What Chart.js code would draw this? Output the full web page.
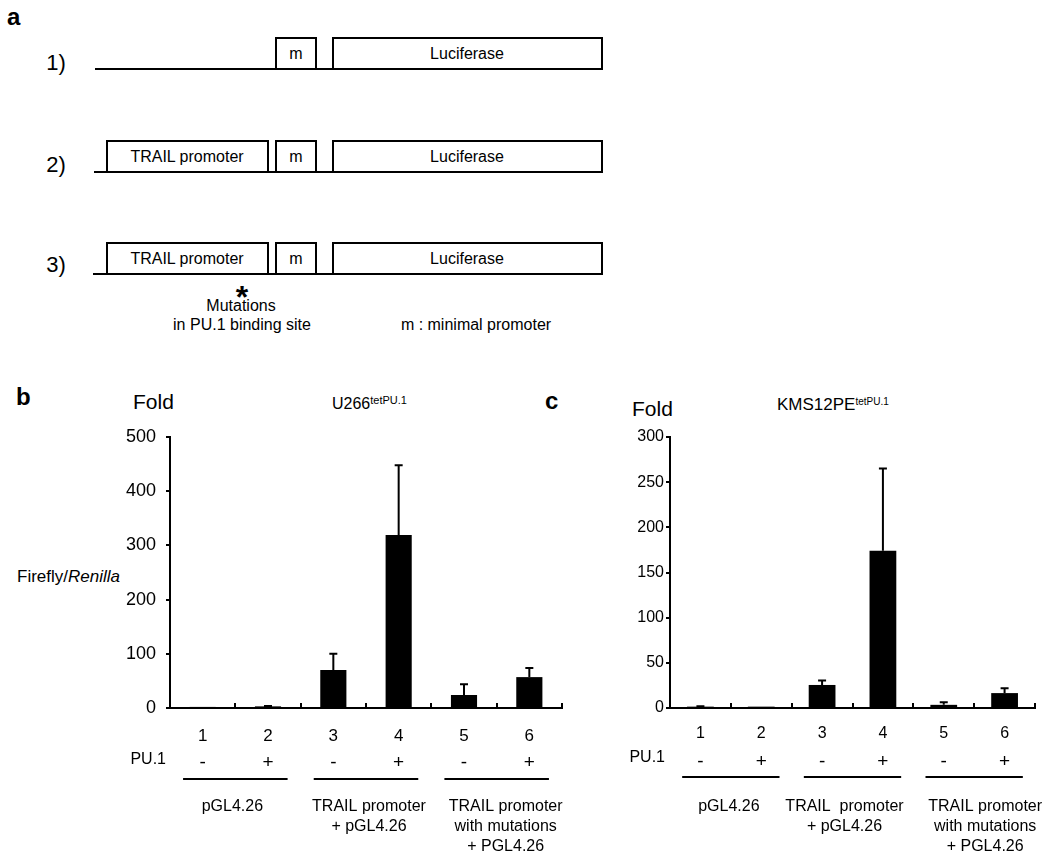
<!DOCTYPE html>
<html><head><meta charset="utf-8">
<script src="https://cdn.jsdelivr.net/npm/chart.js@4.4.1/dist/chart.umd.min.js"></script>
<style>
html,body{margin:0;padding:0;background:#fff;}
body{width:1050px;height:855px;position:relative;overflow:hidden;font-family:"Liberation Sans",Arial,sans-serif;color:#000;}
.t{position:absolute;white-space:nowrap;line-height:1;transform:translateY(-50%);}
.t sup{font-size:11px;vertical-align:5px;line-height:1;}
canvas{position:absolute;}
</style></head><body>

<svg width="1050" height="340" style="position:absolute;left:0;top:0" font-family="Liberation Sans, Arial, sans-serif">
  <g stroke="#000" stroke-width="2" fill="#fff">
    <line x1="95" y1="69" x2="333" y2="69"/>
    <rect x="276" y="38" width="40" height="31"/>
    <rect x="333" y="38" width="269" height="31"/>
    <line x1="94" y1="172" x2="333" y2="172"/>
    <rect x="107" y="141" width="161" height="31"/>
    <rect x="276" y="141" width="40" height="31"/>
    <rect x="333" y="141" width="269" height="31"/>
    <line x1="93" y1="274" x2="333" y2="274"/>
    <rect x="107" y="243" width="161" height="31"/>
    <rect x="276" y="243" width="40" height="31"/>
    <rect x="333" y="243" width="269" height="31"/>
  </g>
  <g fill="#000" font-size="16" text-anchor="middle" dominant-baseline="central">
    <text x="296" y="53">m</text>
    <text x="467" y="53">Luciferase</text>
    <text x="187" y="156">TRAIL promoter</text>
    <text x="296" y="156">m</text>
    <text x="467" y="156">Luciferase</text>
    <text x="187" y="258">TRAIL promoter</text>
    <text x="296" y="258">m</text>
    <text x="467" y="258">Luciferase</text>
    <text x="241" y="305">Mutations</text>
    <text x="242" y="324">in PU.1 binding site</text>
    <text x="476" y="324">m : minimal promoter</text>
  </g>
  <g fill="#000" font-size="22" text-anchor="middle" dominant-baseline="central">
    <text x="56" y="62">1)</text>
    <text x="56" y="164">2)</text>
    <text x="56" y="264">3)</text>
  </g>
  <text x="242" y="308" fill="#000" font-size="32" font-weight="bold" text-anchor="middle">*</text>
</svg>

<div class="t" style="left:7px;top:17px;font-size:24px;font-weight:bold;">a</div>
<div class="t" style="left:16px;top:397px;font-size:24px;font-weight:bold;">b</div>
<div class="t" style="left:545px;top:401px;font-size:24px;font-weight:bold;">c</div>
<div class="t" style="left:133px;top:401px;font-size:21px;">Fold</div>
<div class="t" style="left:632px;top:408px;font-size:21px;">Fold</div>
<div class="t" style="left:332px;top:403px;font-size:16px;">U266<sup>tetPU.1</sup></div>
<div class="t" style="left:777px;top:404px;font-size:17px;">KMS12PE<sup style="font-size:10px">tetPU.1</sup></div>
<div class="t" style="left:17px;top:576px;font-size:17px;">Firefly/<i>Renilla</i></div>

<canvas id="cb" width="580" height="475" style="left:0;top:380px;"></canvas>
<canvas id="cc" width="490" height="475" style="left:560px;top:380px;"></canvas>

<script>
const FONT = '"Liberation Sans", Arial, sans-serif';

// ---- data ----
const categories = ['1', '2', '3', '4', '5', '6'];
const pu1Signs = ['-', '+', '-', '+', '-', '+'];
const groupLabelsB = [['pGL4.26'], ['TRAIL promoter', '+ pGL4.26'], ['TRAIL promoter', 'with mutations', '+ PGL4.26']];
const groupLabelsC = [['pGL4.26'], ['TRAIL  promoter', '+ pGL4.26'], ['TRAIL promoter', 'with mutations', '+ PGL4.26']];
const u266Values = [2, 3, 70, 319, 24, 57];
const u266Errors = [0, 0.5, 30, 129, 20, 17];
const u266Ticks = [0, 100, 200, 300, 400, 500];
const kmsValues = [1.5, 1.5, 25.5, 174, 3.5, 16.5];
const kmsErrors = [0.5, 0, 5, 91, 3, 5.5];
const kmsTicks = [0, 50, 100, 150, 200, 250, 300];

// ---- decorations drawn from the library's scales ----
const decor = {
  id: 'decor',
  afterDatasetsDraw(chart, args, o) {
    const {ctx, scales: {x, y}} = chart;
    const vals = chart.data.datasets[0].data;
    ctx.save();
    ctx.strokeStyle = '#000';
    ctx.lineWidth = 2;
    o.errors.forEach((e, i) => {
      if (!e) return;
      const px = x.getPixelForValue(i);
      const y0 = y.getPixelForValue(vals[i]);
      const y1 = y.getPixelForValue(vals[i] + e);
      ctx.beginPath();
      ctx.moveTo(px, y0); ctx.lineTo(px, y1);
      ctx.moveTo(px - o.cap, y1); ctx.lineTo(px + o.cap, y1);
      ctx.stroke();
    });
    ctx.restore();
  },
  afterDraw(chart, args, o) {
    const {ctx, chartArea, scales: {x}} = chart;
    const bottom = chartArea.bottom;
    const n = chart.data.labels.length;
    ctx.save();
    ctx.strokeStyle = '#000';
    ctx.fillStyle = '#000';
    ctx.lineWidth = 2;
    // small upward ticks at category boundaries
    for (let i = 1; i <= n; i++) {
      const px = Math.round(x.getPixelForValue(i - 0.5));
      ctx.beginPath();
      ctx.moveTo(px, bottom);
      ctx.lineTo(px, bottom - o.tickUp);
      ctx.stroke();
    }
    // PU.1 row
    ctx.textBaseline = 'middle';
    ctx.font = o.puSize + 'px ' + FONT;
    ctx.textAlign = 'right';
    ctx.fillText('PU.1', chartArea.left - o.puGap, bottom + o.puDy);
    ctx.font = o.signSize + 'px ' + FONT;
    ctx.textAlign = 'center';
    pu1Signs.forEach((s, i) => ctx.fillText(s, x.getPixelForValue(i), bottom + o.signDy));
    // group lines and labels
    ctx.font = o.groupSize + 'px ' + FONT;
    o.groups.forEach((lines, g) => {
      const c = g * 2 + 0.5;
      const x0 = x.getPixelForValue(c - 0.8);
      const x1 = x.getPixelForValue(c + 0.8);
      ctx.beginPath();
      ctx.moveTo(x0, bottom + o.lineDy);
      ctx.lineTo(x1, bottom + o.lineDy);
      ctx.stroke();
      const cx = x.getPixelForValue(c) + o.labelShift[g];
      lines.forEach((t, k) => ctx.fillText(t, cx, bottom + o.labelDy + k * 20));
    });
    ctx.restore();
  }
};

function makeChart(id, values, errors, tickVals, groups, cfg) {
  return new Chart(document.getElementById(id), {
    type: 'bar',
    data: {
      labels: categories,
      datasets: [{data: values, backgroundColor: '#000', borderWidth: 0,
                  barPercentage: cfg.barPct, categoryPercentage: 1}]
    },
    options: {
      responsive: false, animation: false, devicePixelRatio: 1,
      layout: {padding: {top: 57, right: cfg.padRight, left: 0, bottom: 0}},
      plugins: {
        legend: {display: false}, tooltip: {enabled: false},
        decor: Object.assign({errors: errors, groups: groups}, cfg.decor)
      },
      scales: {
        x: {
          grid: {display: false, drawTicks: false},
          border: {display: true, color: '#000', width: 2},
          ticks: {color: '#000', font: {family: FONT, size: cfg.numSize}, padding: cfg.numPad,
                  maxRotation: 0, autoSkip: false},
          afterFit(s) { s.height = 147; }
        },
        y: {
          min: 0, max: tickVals[tickVals.length - 1],
          afterBuildTicks(s) { s.ticks = tickVals.map(v => ({value: v})); },
          grid: {display: true, drawOnChartArea: false, drawTicks: true, tickLength: 4,
                 color: '#000', lineWidth: 2},
          border: {display: true, color: '#000', width: 2},
          ticks: {color: '#000', font: {family: FONT, size: cfg.ySize}, padding: cfg.yPad},
          afterFit(s) { s.width = cfg.yWidth; }
        }
      }
    },
    plugins: [decor]
  });
}

makeChart('cb', u266Values, u266Errors, u266Ticks, groupLabelsB, {
  barPct: 0.4, padRight: 18, yWidth: 170, ySize: 18, yPad: 10, numSize: 17, numPad: 18,
  decor: {cap: 4, tickUp: 5, puSize: 16, puGap: 4, puDy: 52, signSize: 19, signDy: 55,
          lineDy: 71, groupSize: 16, labelDy: 99, labelShift: [-3, 3, 9]}
});
makeChart('cc', kmsValues, kmsErrors, kmsTicks, groupLabelsC, {
  barPct: 0.44, padRight: 15, yWidth: 110, ySize: 16, yPad: 2, numSize: 16, numPad: 16,
  decor: {cap: 4, tickUp: 5, puSize: 16, puGap: 5, puDy: 50, signSize: 19, signDy: 54,
          lineDy: 69, groupSize: 16, labelDy: 99, labelShift: [-2, -8, 11]}
});
</script>
</body></html>
